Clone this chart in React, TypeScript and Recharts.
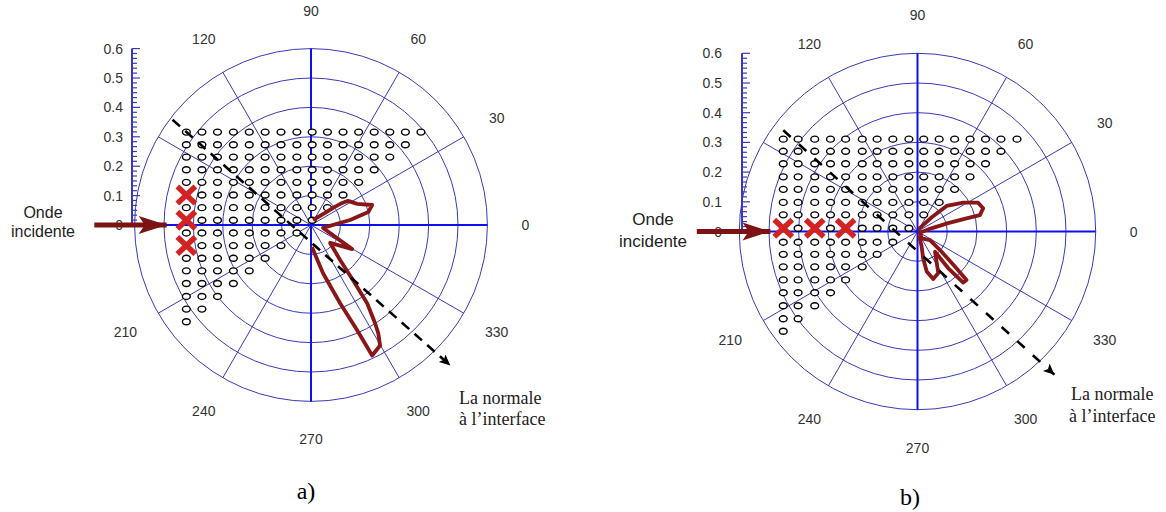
import React from "react";
import {
  LineChart,
  PolarAngleAxis,
  PolarGrid,
  RadarChart,
  Scatter,
  ScatterChart,
  XAxis,
  YAxis,
} from "recharts";

// polar frame
const ANGLES = [0, 30, 60, 90, 120, 150, 180, 210, 240, 270, 300, 330];
const UNLABELED_ANGLES = [150, 180];
const RINGS = [0.1, 0.2, 0.3, 0.4, 0.5, 0.6];
const RADIAL_LABELS = [0, 0.1, 0.2, 0.3, 0.4, 0.5, 0.6];

// receiver grid: row heights, column positions, dots per row (from the left)
const ROW_COUNTS = [16, 15, 14, 13, 12, 11, 10, 9, 8, 7, 6, 5, 4, 3, 2, 1];
const ROWS_A = [0.316, 0.273, 0.231, 0.188, 0.145, 0.102, 0.059, 0.016, -0.027, -0.07, -0.113, -0.156, -0.199, -0.243, -0.286, -0.329];
const COLS_A = [-0.424, -0.371, -0.318, -0.264, -0.21, -0.156, -0.102, -0.048, 0.004, 0.056, 0.109, 0.162, 0.215, 0.268, 0.321, 0.374];
const ROWS_B = [0.311, 0.27, 0.228, 0.184, 0.142, 0.098, 0.056, 0.011, -0.036, -0.077, -0.119, -0.163, -0.206, -0.25, -0.294, -0.336];
const COLS_B = [-0.452, -0.402, -0.346, -0.293, -0.242, -0.186, -0.136, -0.083, -0.029, 0.021, 0.073, 0.125, 0.177, 0.229, 0.281, 0.335];

// sources (red crosses)
const SOURCES_A = [
  { x: -0.424, y: 0.102 },
  { x: -0.424, y: 0.016 },
  { x: -0.424, y: -0.07 },
];
const SOURCES_B = [
  { x: -0.452, y: 0.011 },
  { x: -0.346, y: 0.011 },
  { x: -0.242, y: 0.011 },
];

// radiation pattern
const PATTERN_A = [
  { x: 0.007, y: 0.017 },
  { x: 0.048, y: 0.041 },
  { x: 0.075, y: 0.058 },
  { x: 0.106, y: 0.075 },
  { x: 0.126, y: 0.082 },
  { x: 0.157, y: 0.072 },
  { x: 0.208, y: 0.068 },
  { x: 0.195, y: 0.044 },
  { x: 0.133, y: 0.017 },
  { x: 0.041, y: -0.01 },
  { x: 0.14, y: -0.082 },
  { x: 0.065, y: -0.061 },
  { x: 0.099, y: -0.119 },
  { x: 0.143, y: -0.188 },
  { x: 0.191, y: -0.266 },
  { x: 0.218, y: -0.334 },
  { x: 0.229, y: -0.369 },
  { x: 0.235, y: -0.41 },
  { x: 0.208, y: -0.444 },
  { x: 0.157, y: -0.358 },
  { x: 0.099, y: -0.266 },
  { x: 0.041, y: -0.164 },
  { x: 0.003, y: -0.075 },
];
const PATTERN_B = [
  { x: 0.003, y: 0.007 },
  { x: 0.048, y: 0.048 },
  { x: 0.098, y: 0.086 },
  { x: 0.154, y: 0.097 },
  { x: 0.204, y: 0.097 },
  { x: 0.221, y: 0.078 },
  { x: 0.21, y: 0.055 },
  { x: 0.165, y: 0.044 },
  { x: 0.103, y: 0.028 },
  { x: 0.036, y: 0.007 },
  { x: 0.008, y: -0.004 },
  { x: 0.014, y: -0.023 },
  { x: 0.042, y: -0.029 },
  { x: 0.081, y: -0.068 },
  { x: 0.126, y: -0.118 },
  { x: 0.165, y: -0.163 },
  { x: 0.154, y: -0.172 },
  { x: 0.103, y: -0.123 },
  { x: 0.059, y: -0.068 },
  { x: 0.07, y: -0.14 },
  { x: 0.053, y: -0.16 },
  { x: 0.031, y: -0.135 },
  { x: 0.019, y: -0.09 },
  { x: 0.014, y: -0.051 },
  { x: 0.005, y: -0.012 },
];

// normal to the interface (dashed arrow) and incident wave (thick arrow)
const NORMAL_A = [{ x: -0.471, y: 0.358 }, { x: 0.474, y: -0.478 }];
const NORMAL_B = [{ x: -0.452, y: 0.341 }, { x: 0.461, y: -0.482 }];
const INCIDENT_A = [{ x: -0.737, y: 0 }, { x: -0.491, y: 0 }];
const INCIDENT_B = [{ x: -0.743, y: 0 }, { x: -0.495, y: 0 }];

const RMAX = RINGS[RINGS.length - 1];
const AXIS_H = [{ x: -RMAX, y: 0 }, { x: RMAX, y: 0 }];
const AXIS_V = [{ x: 0, y: -RMAX }, { x: 0, y: RMAX }];
const SCALE_TICKS = Array.from({ length: 37 }, (_, i) => i / 60);

const GRID_BLUE = "#3a3ab8";
const AXIS_BLUE = "#1010ee";
const CURVE_RED = "#8a1717";
const ARROW_RED = "#7c1212";
const CROSS_RED = "#d22222";
const LABEL = "#333";
const SANS = "'Liberation Sans', Arial, sans-serif";
const SERIF = "'Liberation Serif', 'Times New Roman', serif";

const H = 512;
const LABEL_GAP = 38;

const buildReceivers = (rows: number[], cols: number[], sources: { x: number; y: number }[]) => {
  const pts: { x: number; y: number }[] = [];
  rows.forEach((y, r) => {
    cols.slice(0, ROW_COUNTS[r]).forEach((x) => {
      const hidden = sources.some((s) => Math.abs(s.x - x) < 0.01 && Math.abs(s.y - y) < 0.01);
      if (!hidden) pts.push({ x, y });
    });
  });
  return pts;
};

const noMark = () => <g />;

const ringDot = (props: any) => (
  <ellipse cx={props.cx} cy={props.cy} rx={3.9} ry={3} fill="#fff" stroke="#000" strokeWidth={1.4} />
);

const crossMark = (props: any) => {
  const { cx, cy } = props;
  const sx = 9;
  const sy = 8.5;
  return (
    <g stroke={CROSS_RED} strokeWidth={5.5}>
      <line x1={cx - sx} y1={cy - sy} x2={cx + sx} y2={cy + sy} />
      <line x1={cx - sx} y1={cy + sy} x2={cx + sx} y2={cy - sy} />
    </g>
  );
};

// arrow head drawn on the last point of a two point segment
const headAt = (pts: { x: number; y: number }[], len: number, half: number, color: string) => (props: any) => {
  const last = pts[pts.length - 1];
  const first = pts[0];
  if (!props.payload || props.payload.x !== last.x || props.payload.y !== last.y) return <g />;
  const deg = (Math.atan2(-(last.y - first.y), last.x - first.x) * 180) / Math.PI;
  return (
    <polygon
      points={`0,0 ${-len},${-half} ${-len * 0.78},0 ${-len},${half}`}
      fill={color}
      transform={`translate(${props.cx},${props.cy}) rotate(${deg})`}
    />
  );
};

interface PanelSpec {
  left: number;
  width: number;
  cx: number;
  cy: number;
  scale: number;
  axisX: number;
  tickGap: number;
  rows: number[];
  cols: number[];
  sources: { x: number; y: number }[];
  pattern: { x: number; y: number }[];
  normal: { x: number; y: number }[];
  incident: { x: number; y: number }[];
  dash: string;
  onde: { x: number; y1: number; y2: number; size: number };
  normale: { x1: number; y1: number; x2: number; y2: number };
  caption: { text: string; x: number; y: number };
}

const PANELS: PanelSpec[] = [
  {
    left: 0,
    width: 580,
    cx: 311,
    cy: 225,
    scale: 294,
    axisX: 132,
    tickGap: 9,
    rows: ROWS_A,
    cols: COLS_A,
    sources: SOURCES_A,
    pattern: PATTERN_A,
    normal: NORMAL_A,
    incident: INCIDENT_A,
    dash: "10 7",
    onde: { x: 43, y1: 218, y2: 237, size: 16 },
    normale: { x1: 459, y1: 404, x2: 459, y2: 425 },
    caption: { text: "a)", x: 306, y: 499 },
  },
  {
    left: 580,
    width: 586,
    cx: 337.5,
    cy: 231.5,
    scale: 297,
    axisX: 162,
    tickGap: 20,
    rows: ROWS_B,
    cols: COLS_B,
    sources: SOURCES_B,
    pattern: PATTERN_B,
    normal: NORMAL_B,
    incident: INCIDENT_B,
    dash: "10 11",
    onde: { x: 73, y1: 225, y2: 247, size: 17 },
    normale: { x1: 491, y1: 400, x2: 489, y2: 422 },
    caption: { text: "b)", x: 330, y: 505 },
  },
];

const layer: React.CSSProperties = { position: "absolute", left: 0, top: 0 };

function Panel({ p }: { p: PanelSpec }) {
  const W = p.width;
  const R = RMAX * p.scale;
  const receivers = buildReceivers(p.rows, p.cols, p.sources);

  const angleTick = (props: any) => {
    const a = Number(props.payload?.value);
    if (UNLABELED_ANGLES.includes(a)) return <g />;
    const rad = (a * Math.PI) / 180;
    const r = R + LABEL_GAP;
    return (
      <text
        x={p.cx + r * Math.cos(rad)}
        y={p.cy - r * Math.sin(rad)}
        textAnchor="middle"
        dominantBaseline="central"
        fontSize={14}
        fontFamily={SANS}
        fill={LABEL}
      >
        {a}
      </text>
    );
  };

  const radialTick = (props: any) => {
    const { x, y, payload } = props;
    const v = Number(payload.value);
    const major = Math.abs(v * 10 - Math.round(v * 10)) < 1e-6;
    return (
      <g>
        <line x1={x} x2={x + (major ? 8 : 5)} y1={y} y2={y} stroke={GRID_BLUE} strokeWidth={1.2} />
        {major && (
          <text
            x={x - p.tickGap}
            y={y}
            textAnchor="end"
            dominantBaseline="central"
            fontSize={14}
            fontFamily={SANS}
            fill={LABEL}
          >
            {String(Number(v.toFixed(1)))}
          </text>
        )}
      </g>
    );
  };

  return (
    <div style={{ position: "absolute", left: p.left, top: 0, width: W, height: H }}>
      <div style={layer}>
        <RadarChart
          width={W}
          height={H}
          cx={p.cx}
          cy={p.cy}
          innerRadius={0}
          outerRadius={R}
          startAngle={0}
          endAngle={360}
          margin={{ top: 0, right: 0, bottom: 0, left: 0 }}
          data={ANGLES.map((a) => ({ angle: a }))}
        >
          <PolarGrid
            gridType="circle"
            polarAngles={ANGLES}
            polarRadius={RINGS.map((r) => r * p.scale)}
            stroke={GRID_BLUE}
            strokeWidth={1}
          />
          <PolarAngleAxis dataKey="angle" axisLine={false} tickLine={false} tick={angleTick} />
        </RadarChart>
      </div>

      <div style={layer}>
        <LineChart
          width={W}
          height={H}
          data={RADIAL_LABELS.map((v) => ({ r: v }))}
          margin={{ top: p.cy - R, right: 0, bottom: H - p.cy, left: 0 }}
        >
          <XAxis hide dataKey="r" />
          <YAxis
            dataKey="r"
            type="number"
            domain={[0, RMAX]}
            allowDataOverflow
            ticks={SCALE_TICKS}
            interval={0}
            width={p.axisX}
            axisLine={{ stroke: GRID_BLUE, strokeWidth: 2 }}
            tickLine={false}
            tickSize={0}
            tickMargin={0}
            tick={radialTick}
          />
        </LineChart>
      </div>

      <div style={layer}>
        <ScatterChart width={W} height={H} margin={{ top: 0, right: 0, bottom: 0, left: 0 }}>
          <XAxis
            hide
            type="number"
            dataKey="x"
            domain={[-p.cx / p.scale, (W - p.cx) / p.scale]}
            allowDataOverflow
          />
          <YAxis
            hide
            type="number"
            dataKey="y"
            domain={[-(H - p.cy) / p.scale, p.cy / p.scale]}
            allowDataOverflow
          />
          <Scatter data={AXIS_H} line={{ stroke: AXIS_BLUE, strokeWidth: 2 }} shape={noMark} isAnimationActive={false} />
          <Scatter data={AXIS_V} line={{ stroke: AXIS_BLUE, strokeWidth: 2 }} shape={noMark} isAnimationActive={false} />
          <Scatter data={receivers} shape={ringDot} isAnimationActive={false} />
          <Scatter
            data={p.pattern}
            line={{ stroke: CURVE_RED, strokeWidth: 3.8, strokeLinejoin: "round" }}
            shape={noMark}
            isAnimationActive={false}
          />
          <Scatter
            data={p.normal}
            line={{ stroke: "#000", strokeWidth: 2.6, strokeDasharray: p.dash }}
            shape={headAt(p.normal, 11, 5, "#000")}
            isAnimationActive={false}
          />
          <Scatter data={p.sources} shape={crossMark} isAnimationActive={false} />
          <Scatter
            data={p.incident}
            line={{ stroke: ARROW_RED, strokeWidth: 5 }}
            shape={headAt(p.incident, 28, 9, ARROW_RED)}
            isAnimationActive={false}
          />
        </ScatterChart>
      </div>

      <svg style={layer} width={W} height={H}>
        <g fontFamily={SANS} fontSize={p.onde.size} fill="#222" textAnchor="middle">
          <text x={p.onde.x} y={p.onde.y1}>Onde</text>
          <text x={p.onde.x} y={p.onde.y2}>incidente</text>
        </g>
        <g fontFamily={SERIF} fontSize={18} fill="#222">
          <text x={p.normale.x1} y={p.normale.y1}>La normale</text>
          <text x={p.normale.x2} y={p.normale.y2}>à l’interface</text>
        </g>
        <text x={p.caption.x} y={p.caption.y} fontFamily={SERIF} fontSize={24} fill="#000" textAnchor="middle">
          {p.caption.text}
        </text>
      </svg>
    </div>
  );
}

export default function App() {
  return (
    <div style={{ position: "absolute", left: 0, top: 0, width: 1166, height: H, background: "#fff", overflow: "hidden" }}>
      {PANELS.map((p) => (
        <Panel key={p.left} p={p} />
      ))}
    </div>
  );
}
